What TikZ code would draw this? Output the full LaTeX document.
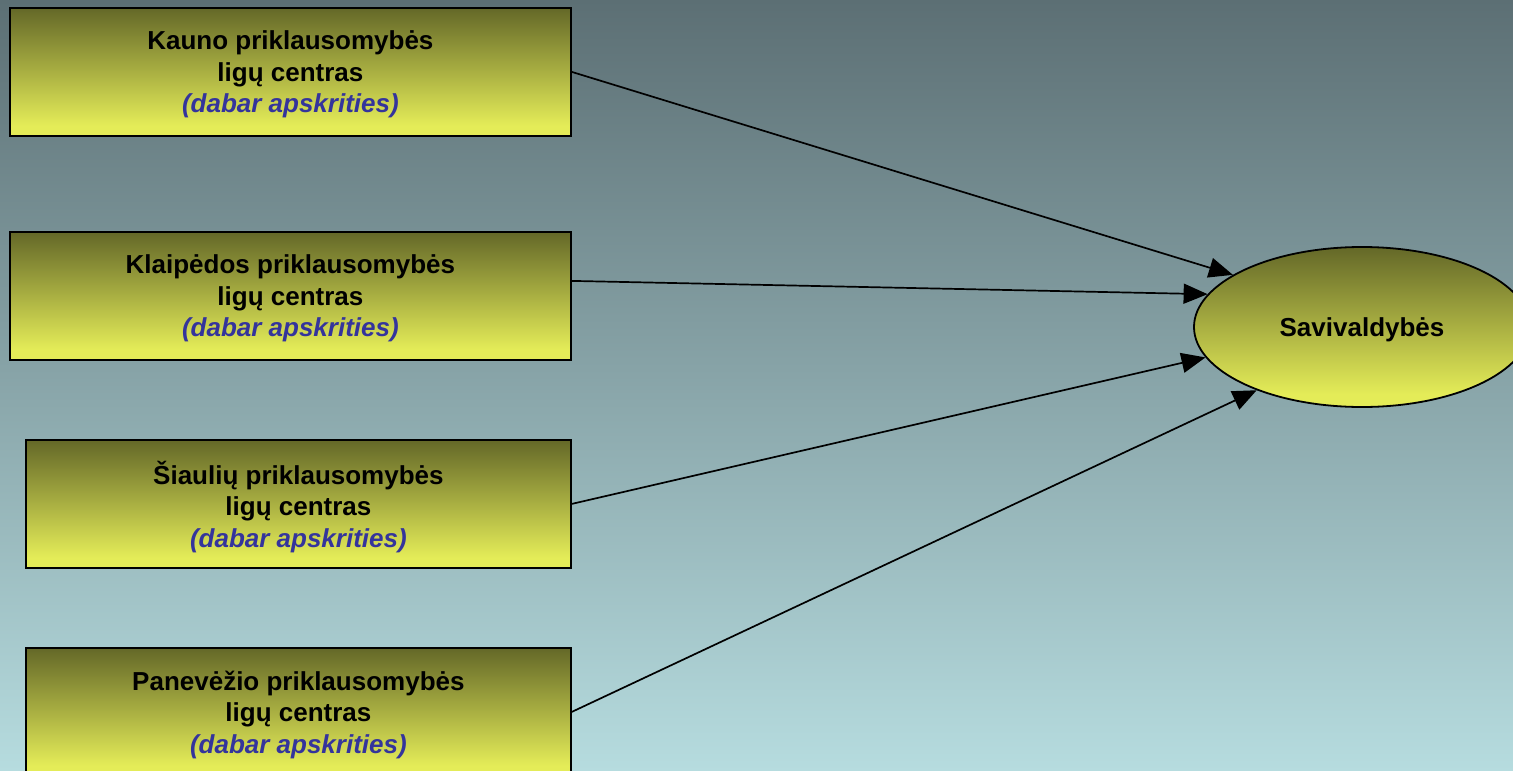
\documentclass[tikz,border=0pt]{standalone}
\usepackage{fontspec}
\setmainfont{Liberation Sans}
\usetikzlibrary{shapes.geometric,arrows.meta}

\definecolor{bgtop}{RGB}{92,111,116}
\definecolor{bgbottom}{RGB}{182,220,223}
\definecolor{olive}{RGB}{100,104,40}
\definecolor{lemon}{RGB}{228,236,88}
\definecolor{notecol}{RGB}{52,52,156}

% dark olive at the top fading to lemon near the bottom edge
\pgfdeclareverticalshading{olivefade}{100bp}{
  color(0bp)=(lemon); color(25bp)=(lemon); color(29bp)=(lemon);
  color(75bp)=(olive); color(100bp)=(olive)}

\tikzset{
  centrebox/.style={draw=black, line width=1.8pt, rectangle, anchor=north west,
    minimum width=561pt, minimum height=128pt, inner sep=0pt,
    shading=olivefade, align=center, text depth=0pt,
    font=\fontsize{26pt}{31.5pt}\selectfont\bfseries},
  cityoval/.style={draw=black, line width=1.8pt, ellipse, minimum width=336pt,
    minimum height=160pt, inner sep=0pt, shading=olivefade,
    font=\fontsize{26pt}{31.5pt}\selectfont\bfseries},
  link/.style={draw=black, line width=1.7pt, -{Triangle[length=24pt,width=20pt]}}
}
\newcommand{\nowcounty}{\textcolor{notecol}{\itshape(dabar apskrities)}}

\begin{document}
\begin{tikzpicture}[x=1pt,y=1pt]
  \useasboundingbox (0,0) rectangle (1513,-771);
  \shade[top color=bgtop, bottom color=bgbottom] (0,0) rectangle (1513,-771);

  \node[centrebox] (kaunas) at (9,-7)
    {Kauno priklausomybės\\ ligų centras\\ \nowcounty};
  \node[centrebox] (klaipeda) at (9,-231)
    {Klaipėdos priklausomybės\\ ligų centras\\ \nowcounty};
  \node[centrebox, minimum width=545pt] (siauliai) at (25,-439)
    {Šiaulių priklausomybės\\ ligų centras\\ \nowcounty};
  \node[centrebox, minimum width=545pt] (panevezys) at (25,-647)
    {Panevėžio priklausomybės\\ ligų centras\\ \nowcounty};

  \node[cityoval, text depth=0pt] (sav) at (1362,-327) {Savivaldybės};

  \draw[link] (kaunas.east) -- (sav.158);
  \draw[link] ([yshift=15pt]klaipeda.east) -- (sav.168);
  \draw[link] (siauliai.east) -- (sav.191.5);
  \draw[link] (panevezys.east) -- (sav.211.5);
\end{tikzpicture}
\end{document}
